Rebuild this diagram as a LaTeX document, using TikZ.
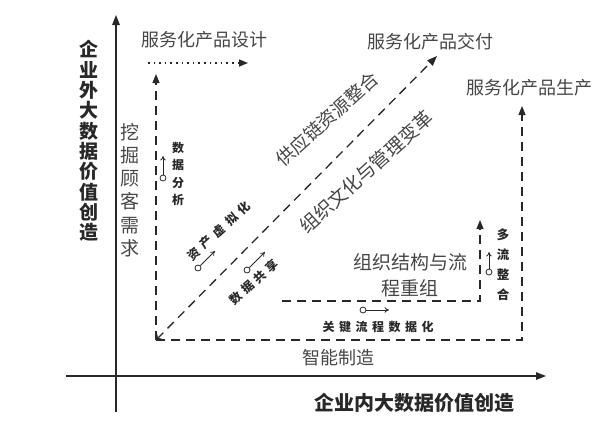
\documentclass[tikz,border=0pt]{standalone}
\usepackage{fontspec}
\newfontfamily\cjk{Noto Sans CJK SC}
\usetikzlibrary{arrows.meta}
\definecolor{ink}{RGB}{40,40,40}
\definecolor{txt}{RGB}{70,70,70}
\begin{document}
\begin{tikzpicture}[x=1pt,y=-1pt,
  axis/.style={ink, line width=1.4pt, -{Triangle[length=10pt,width=7.5pt]}},
  dashline/.style={ink, line width=1.3pt, dash pattern=on 9pt off 6pt},
  headed/.style={-{Triangle[length=9pt,width=7pt]}},
  dotline/.style={ink, line width=1.6pt, dash pattern=on 1.6pt off 4pt},
  lbl/.style={font=\cjk\fontsize{18}{20}\selectfont, text=txt, inner sep=0pt},
  biglbl/.style={font=\cjk\bfseries\fontsize{19}{20.3}\selectfont, text=ink, inner sep=0pt, align=center},
  small/.style={font=\cjk\bfseries\fontsize{12}{17.3}\selectfont, text=ink, inner sep=0pt, align=center},
  ring/.style={circle, draw=ink, line width=0.8pt, minimum size=6pt, inner sep=0pt},
  ringarrow/.style={ink, line width=0.8pt, -{To[length=4.5pt,width=5.5pt]}}
]
\path[use as bounding box] (0,0) rectangle (609,429);

% axes
\coordinate (ybot) at (116,412);
\coordinate (ytop) at (116,15);
\coordinate (xleft) at (66,376);
\coordinate (xright) at (546,376);
\draw[axis] (ybot) -- (ytop);
\draw[axis] (xleft) -- (xright);

% key points
\coordinate (C) at (156,340);
\coordinate (Ctop) at (156,74);
\coordinate (dotA) at (148,63);
\coordinate (dotB) at (248,63);
\coordinate (Rcorner) at (522,340);
\coordinate (Rtop) at (522,106);
\coordinate (Dtop) at (437,56);
\coordinate (Ia) at (282,301);
\coordinate (Ib) at (480,301);
\coordinate (Itop) at (480,220);

\draw[dashline, headed] (C) -- (Ctop);
\draw[dotline, -{Triangle[length=9pt,width=7pt]}] (dotA) -- (dotB);
\draw[dashline, headed] (C) -- (Rcorner) -- (Rtop);
\draw[dashline, {To[length=5pt,width=8pt]}-{Triangle[length=10pt,width=7.5pt]}] (C) -- (Dtop);
\draw[dashline, headed] (Ia) -- (Ib) -- (Itop);

% axis labels
\node[biglbl] (ylab) at (89,141) {企\\业\\外\\大\\数\\据\\价\\值\\创\\造};
\node[biglbl, font=\cjk\bfseries\fontsize{20}{22}\selectfont] (xlab) at (414,403) {企业内大数据价值创造};

% outcome labels
\node[lbl] (design) at (204,40) {服务化产品设计};
\node[lbl] (deliver) at (430,42) {服务化产品交付};
\node[lbl] (produce) at (529,88) {服务化产品生产};
\node[lbl] (smart) at (338,358) {智能制造};

\node[lbl, font=\cjk\fontsize{19}{23.2}\selectfont, align=center] (mine) at (130,190) {挖\\掘\\顾\\客\\需\\求};
\node[lbl, font=\cjk\fontsize{18.5}{22}\selectfont, rotate=42] (supply) at (327,119) {供应链资源整合};
\node[lbl, font=\cjk\fontsize{19}{22}\selectfont, rotate=42] (culture) at (366,172) {组织文化与管理变革};
\node[lbl, font=\cjk\fontsize{19}{26}\selectfont, align=center] (org) at (410,275) {组织结构与流\\程重组};

% small labels
\node[small] (ana) at (178,174) {数\\据\\分\\析};
\node[small, font=\cjk\bfseries\fontsize{12.5}{20}\selectfont] (multi) at (503,265) {多\\流\\整\\合};
\node[small, rotate=42] (virt) at (219,231) {资\hspace{5pt}产\hspace{5pt}虚\hspace{5pt}拟\hspace{5pt}化};
\node[small, rotate=42] (share) at (254,282) {数\hspace{4pt}据\hspace{4pt}共\hspace{4pt}享};
\node[small] (key) at (378,327) {关\hspace{4.5pt}键\hspace{4.5pt}流\hspace{4.5pt}程\hspace{4.5pt}数\hspace{4.5pt}据\hspace{4.5pt}化};

% ring arrows
\node[ring] (r1) at (163,178) {};
\coordinate (r1t) at (163,156);
\draw[ringarrow] (r1) -- (r1t);
\node[ring] (r2) at (198,268) {};
\coordinate (r2t) at (215,251);
\draw[ringarrow] (r2) -- (r2t);
\node[ring] (r3) at (247,270) {};
\coordinate (r3t) at (265,252);
\draw[ringarrow] (r3) -- (r3t);
\node[ring] (r4) at (363,310) {};
\coordinate (r4t) at (389,310);
\draw[ringarrow] (r4) -- (r4t);
\node[ring] (r5) at (489,272) {};
\coordinate (r5t) at (489,252);
\draw[ringarrow] (r5) -- (r5t);
\end{tikzpicture}
\end{document}
